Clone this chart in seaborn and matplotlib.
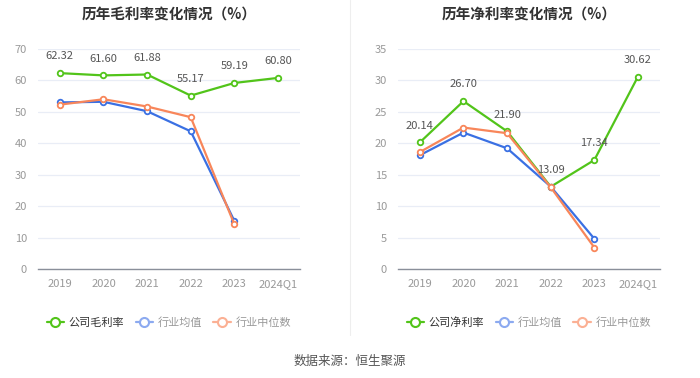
import numpy as np
import pandas as pd
import matplotlib
matplotlib.use('Agg')
import matplotlib.pyplot as plt
import seaborn as sns
from matplotlib.lines import Line2D

# ===== данные =====
years = ['2019', '2020', '2021', '2022', '2023', '2024Q1']

gross_company = [62.32, 61.60, 61.88, 55.17, 59.19, 60.80]
gross_ind_mean = [53.0, 53.2, 50.2, 43.8, 15.3]
gross_ind_median = [52.3, 54.0, 51.7, 48.3, 14.2]

net_company = [20.14, 26.70, 21.90, 13.09, 17.34, 30.62]
net_ind_mean = [18.1, 21.7, 19.2, 13.1, 4.8]
net_ind_median = [18.6, 22.5, 21.6, 13.0, 3.4]

GREEN = '#52c41a'
BLUE = '#3a70e3'
ORANGE = '#f8865a'
BLUE_LIGHT = '#8caaf0'
ORANGE_LIGHT = '#fbb094'

sns.set_style('white')
plt.rcParams['font.family'] = ['Noto Sans CJK SC', 'DejaVu Sans']


def draw_panel(ax, title, company, mean, median, ymax, ystep, company_label):
    df = pd.concat([
        pd.DataFrame({'x': np.arange(len(company)), 'y': company, 's': company_label}),
        pd.DataFrame({'x': np.arange(len(mean)), 'y': mean, 's': '行业均值'}),
        pd.DataFrame({'x': np.arange(len(median)), 'y': median, 's': '行业中位数'}),
    ])
    palette = {company_label: GREEN, '行业均值': BLUE, '行业中位数': ORANGE}
    for name in [company_label, '行业均值', '行业中位数']:
        sub = df[df['s'] == name]
        sns.lineplot(data=sub, x='x', y='y', ax=ax, color=palette[name],
                     marker='o', markersize=4, markerfacecolor='white',
                     markeredgecolor=palette[name], markeredgewidth=1.3,
                     linewidth=1.6, legend=False)

    for i, v in enumerate(company):
        ax.annotate(f'{v:.2f}', (i, v), xytext=(0, 8.5), textcoords='offset points',
                    ha='center', va='bottom', fontsize=8, color='#555555')

    ax.set_xlim(-0.5, len(years) - 0.5)
    ax.set_ylim(0, ymax)
    ax.set_yticks(np.arange(0, ymax + 0.1, ystep))
    ax.set_xticks(range(len(years)))
    ax.set_xticklabels(years)
    ax.set_xlabel('')
    ax.set_ylabel('')
    ax.grid(axis='y', color='#e9edf6', linewidth=0.9)
    ax.set_axisbelow(True)
    for sp in ['top', 'right', 'left']:
        ax.spines[sp].set_visible(False)
    ax.spines['bottom'].set_color('#8a8f9a')
    ax.spines['bottom'].set_linewidth(1.0)
    ax.tick_params(axis='y', length=0, labelsize=8, labelcolor='#999999', pad=8)
    ax.tick_params(axis='x', length=4, color='#8a8f9a', labelsize=8,
                   labelcolor='#999999', pad=3)
    ax.text(0.5, 1 + 34 / 220, title, transform=ax.transAxes, ha='center', va='center',
            fontsize=10.5, fontweight='bold', color='#333333')

    handles = [
        Line2D([], [], color=GREEN, marker='o', markersize=6.5, markerfacecolor='white',
               markeredgewidth=1.5, linewidth=1.6),
        Line2D([], [], color=BLUE_LIGHT, marker='o', markersize=6.5, markerfacecolor='white',
               markeredgewidth=1.5, linewidth=1.6),
        Line2D([], [], color=ORANGE_LIGHT, marker='o', markersize=6.5, markerfacecolor='white',
               markeredgewidth=1.5, linewidth=1.6),
    ]
    leg = ax.legend(handles, [company_label, '行业均值', '行业中位数'],
                    loc='center', bbox_to_anchor=(0.5, -0.245), ncol=3, frameon=False,
                    fontsize=8, handlelength=1.6, handletextpad=0.4, columnspacing=1.0)
    cols = ['#333333', '#999999', '#999999']
    for t, c in zip(leg.get_texts(), cols):
        t.set_color(c)


fig = plt.figure(figsize=(7, 3.78), dpi=100)
ax1 = fig.add_axes([0.0543, 0.2884, 0.374, 0.582])
ax2 = fig.add_axes([0.5686, 0.2884, 0.374, 0.582])

draw_panel(ax1, '历年毛利率变化情况（%）', gross_company, gross_ind_mean, gross_ind_median,
           70, 10, '公司毛利率')
draw_panel(ax2, '历年净利率变化情况（%）', net_company, net_ind_mean, net_ind_median,
           35, 5, '公司净利率')

fig.add_artist(Line2D([0.5, 0.5], [1 - 335 / 378, 1.0], transform=fig.transFigure,
                      color='#eeeeee', linewidth=0.8))
fig.text(0.5, 1 - 361 / 378, '数据来源：恒生聚源', ha='center', va='center',
         fontsize=9, color='#555555')

fig.savefig('out.png', dpi=100)
